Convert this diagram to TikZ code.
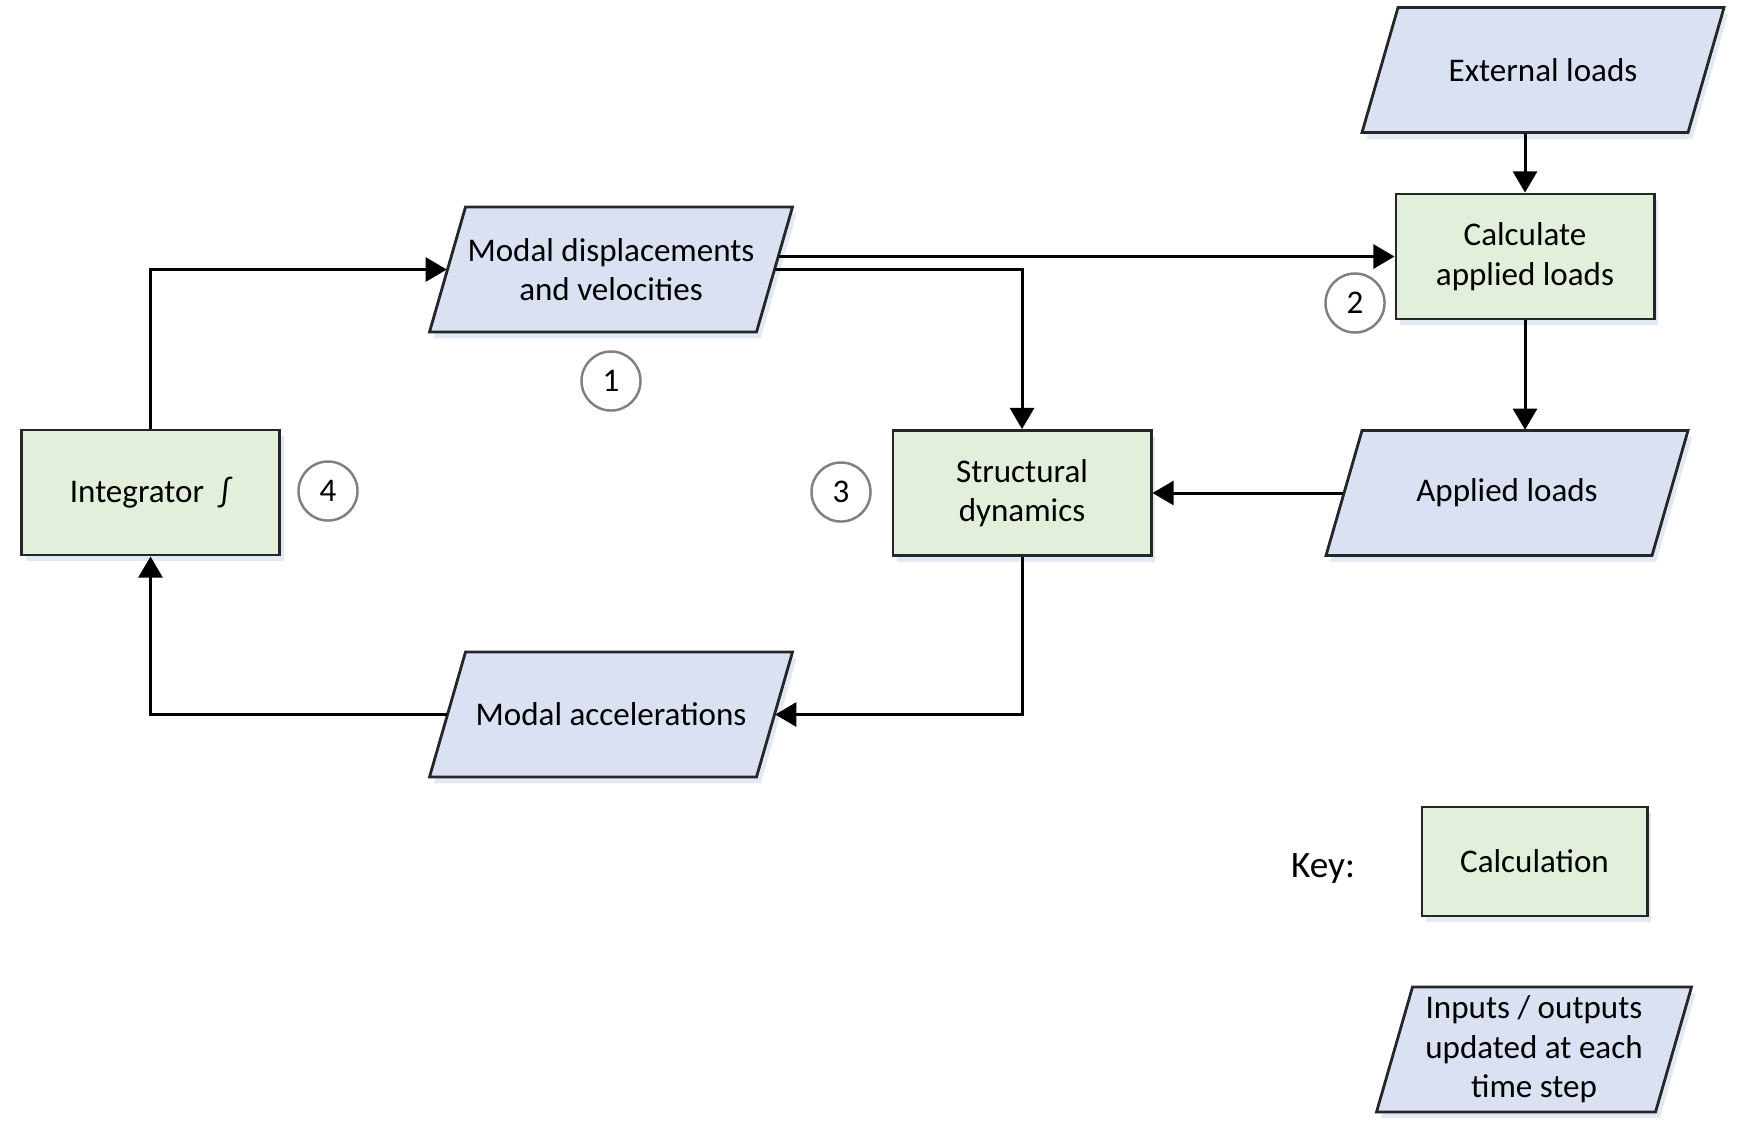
\documentclass[tikz,border=0pt]{standalone}
\usepackage{fontspec}
\setmainfont{Carlito}
\usetikzlibrary{arrows.meta,calc,shadows}
\definecolor{calcgreen}{HTML}{E2EFDA}
\definecolor{ioblue}{HTML}{DAE1F3}
\definecolor{shadowblue}{HTML}{CFDBF0}
% parallelogram input/output: name, cx, cy, body width, text
\newcommand\iopar[5]{%
  \filldraw[ioshape] ({#2-#4/2+18},{#3-62.5}) -- ({#2+#4/2+18},{#3-62.5})
     -- ({#2+#4/2-18},{#3+62.5}) -- ({#2-#4/2-18},{#3+62.5}) -- cycle;
  \node[iotext,minimum width={#4*0.01cm}] (#1) at (#2,#3) {#5};}
\begin{document}
\begin{tikzpicture}[x=0.01cm,y=-0.01cm,
  every node/.style={font=\fontsize{9.4}{11.2}\selectfont},
  shad/.style={drop shadow={shadow xshift=1.2pt,shadow yshift=-1.8pt,fill=shadowblue,opacity=0.6}},
  calcbox/.style={rectangle,draw=black!85,line width=0.8pt,fill=calcgreen,minimum width=2.58cm,minimum height=1.25cm,align=center,shad},
  ioshape/.style={draw=black!85,line width=0.8pt,fill=ioblue,line join=miter,shad},
  iotext/.style={rectangle,draw=none,minimum height=1.25cm,align=center,inner sep=1pt},
  numc/.style={circle,draw=black!50,line width=0.7pt,fill=white,minimum size=0.59cm,inner sep=0pt},
  arr/.style={line width=0.85pt,-{Triangle[length=6pt,width=6.8pt]}}]
\useasboundingbox (0,0) rectangle (1752,1144);

% calculation boxes
\node[calcbox] (integ) at (150.5,492.5) {Integrator~~∫};
\node[calcbox] (struct) at (1022,493) {Structural\\dynamics};
\node[calcbox] (calc) at (1525,256.5) {Calculate\\applied loads};

% input/output parallelograms
\iopar{ext}{1543}{70}{326}{External loads}
\iopar{disp}{611}{269.5}{327}{Modal displacements\\and velocities}
\iopar{acc}{611}{714.5}{327}{Modal accelerations}
\iopar{appl}{1507}{493}{326}{Applied loads}

% numbered circles
\node[numc] (c1) at (611,381) {1};
\node[numc] (c2) at (1355,303) {2};
\node[numc] (c3) at (841,492) {3};
\node[numc] (c4) at (328,491) {4};

% connectors
\draw[arr] (integ.north) |- (disp.west);
\draw[arr] ($(disp.east)+(3.6,-13)$) -- (calc.west);
\draw[arr] (disp.east) -| (struct.north);
\draw[arr] (ext.south -| calc.north) -- (calc.north);
\draw[arr] (calc.south) -- (calc.south |- appl.north);
\draw[arr] (appl.west) -- (struct.east);
\draw[arr] (struct.south) |- (acc.east);
\draw[arr] (acc.west) -| (integ.south);

% key
\node[font=\fontsize{10.6}{12}\selectfont] (keylbl) at (1323,869) {Key:};
\node[calcbox,minimum width=2.25cm,minimum height=1.09cm] (keycalc) at (1534.5,861.5) {Calculation};
\iopar{keyio}{1534}{1049.5}{279}{Inputs / outputs\\updated at each\\time step}
\end{tikzpicture}
\end{document}
